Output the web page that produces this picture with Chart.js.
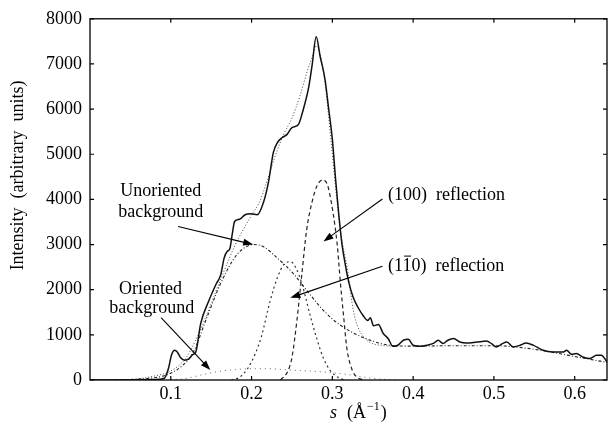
<!DOCTYPE html>
<html lang="en">
<head>
  <meta charset="UTF-8" />
  <title>Intensity vs s</title>
  <script src="https://cdn.jsdelivr.net/npm/chart.js"></script>
  <style>
    body { margin: 0; background: #fff; }
  </style>
</head>
<body>
  <canvas id="profile" width="612" height="429"></canvas>

  <script>
    // measured profile (solid)
    const dataS = [0, 0.04, 0.08, 0.092, 0.097, 0.101, 0.105, 0.108, 0.112, 0.117,
                   0.122, 0.127, 0.131, 0.137, 0.147, 0.156, 0.162, 0.166, 0.170, 0.173,
                   0.176, 0.179, 0.185, 0.192, 0.199, 0.207, 0.215, 0.221, 0.227, 0.232,
                   0.238, 0.244, 0.250, 0.258, 0.264, 0.271, 0.275, 0.280, 0.285, 0.291,
                   0.295, 0.300, 0.304, 0.308, 0.312, 0.316, 0.320, 0.326, 0.332, 0.338,
                   0.344, 0.347, 0.351, 0.357, 0.363, 0.369, 0.375, 0.381, 0.388, 0.394,
                   0.400, 0.409, 0.417, 0.425, 0.431, 0.437, 0.443, 0.450, 0.458, 0.466,
                   0.479, 0.491, 0.497, 0.503, 0.510, 0.516, 0.524, 0.532, 0.540, 0.549,
                   0.561, 0.573, 0.586, 0.590, 0.596, 0.602, 0.610, 0.619, 0.627, 0.633,
                   0.640];
    const dataI = [0, 0, 10, 40, 250, 560, 660, 620, 500, 440,
                   460, 560, 620, 1250, 1750, 2120, 2340, 2700, 2850, 2900,
                   3220, 3510, 3560, 3660, 3680, 3660, 3950, 4390, 5040, 5260,
                   5370, 5440, 5590, 5660, 5990, 6510, 6980, 7600, 7160, 6650,
                   6070, 5330, 4450, 3660, 3000, 2560, 2190, 1820, 1600, 1430,
                   1320, 1380, 1200, 1230, 1030, 920, 745, 770, 880, 900,
                   770, 745, 770, 810, 880, 810, 880, 920, 840, 818,
                   840, 862, 804, 731, 800, 840, 731, 767, 818, 767,
                   658, 621, 621, 658, 570, 585, 511, 475, 548, 548,
                   400];

    // fitted sum (fine dots)
    const fitS = [0.05, 0.08, 0.10, 0.12, 0.14, 0.16, 0.18, 0.20, 0.21, 0.22,
                  0.23, 0.24, 0.25, 0.26, 0.27, 0.275, 0.28, 0.285, 0.29, 0.295,
                  0.30, 0.305, 0.31, 0.319, 0.326, 0.332, 0.343, 0.359, 0.38];
    const fitI = [0, 90, 200, 520, 1250, 2150, 3000, 3650, 3950, 4450,
                  5000, 5450, 5800, 6300, 6900, 7150, 7400, 7200, 6700, 5900,
                  5000, 4100, 3300, 2410, 1535, 1160, 880, 770, 750];

    // unoriented background (dash-dot)
    const unorS = [0.03, 0.06, 0.086, 0.10, 0.115, 0.128, 0.145, 0.162, 0.182, 0.203,
                   0.215, 0.232, 0.252, 0.269, 0.285, 0.30, 0.322, 0.347, 0.371, 0.40,
                   0.45, 0.50, 0.55, 0.60, 0.64];
    const unorI = [0, 20, 70, 150, 330, 620, 1400, 2150, 2780, 3000,
                   2950, 2700, 2350, 1970, 1620, 1350, 1080, 880, 770, 750,
                   760, 760, 680, 520, 390];

    // (100) reflection (dashed)
    const r100S = [0.236, 0.245, 0.25, 0.256, 0.262, 0.268, 0.275, 0.281, 0.288, 0.294,
                   0.30, 0.306, 0.31, 0.314, 0.318, 0.324, 0.33, 0.34];
    const r100I = [0, 200, 500, 1300, 2300, 3300, 3950, 4300, 4430, 4320,
                   3800, 3000, 2150, 1400, 700, 250, 70, 0];

    // (1-10) reflection (dotted)
    const r110S = [0.175, 0.185, 0.195, 0.205, 0.212, 0.223, 0.232, 0.24, 0.248, 0.255,
                   0.262, 0.273, 0.281, 0.289, 0.297, 0.306, 0.315];
    const r110I = [0, 60, 250, 600, 950, 1750, 2270, 2560, 2620, 2480,
                   2150, 1400, 900, 480, 220, 70, 0];

    // oriented background (sparse dots)
    const oriS = [0.10, 0.12, 0.14, 0.16, 0.18, 0.20, 0.22, 0.24, 0.26, 0.28,
                  0.30, 0.32, 0.34, 0.36, 0.38];
    const oriI = [0, 40, 120, 190, 230, 250, 250, 230, 210, 190,
                  160, 120, 60, 20, 0];

    const sTicks = [0.1, 0.2, 0.3, 0.4, 0.5, 0.6];
    const iTicks = [0, 1000, 2000, 3000, 4000, 5000, 6000, 7000, 8000];

    const serif = "'Liberation Serif', 'Times New Roman', serif";

    function pts(xs, ys) {
      return xs.map((x, i) => ({ x: x, y: ys[i] }));
    }

    function series(xs, ys, width, dash, color) {
      return {
        data: pts(xs, ys),
        borderColor: color,
        borderWidth: width,
        borderDash: dash,
        pointRadius: 0,
        fill: false,
        cubicInterpolationMode: 'monotone'
      };
    }

    // arrows and captions, in data coordinates
    const arrows = [
      { from: [0.109, 3400], to: [0.202, 3000] },
      { from: [0.088, 1380], to: [0.149, 220] },
      { from: [0.362, 4010], to: [0.289, 3070] },
      { from: [0.362, 2520], to: [0.248, 1820] }
    ];
    const captions = [
      { text: 'Unoriented', at: [0.0877, 4079], align: 'center' },
      { text: 'background', at: [0.0877, 3618], align: 'center' },
      { text: 'Oriented', at: [0.075, 1908], align: 'center' },
      { text: 'background', at: [0.0765, 1491], align: 'center' },
      { text: '(100)  reflection', at: [0.369, 3991], align: 'left' },
      { text: '(110)  reflection', at: [0.369, 2412], align: 'left', bar: true }
    ];

    const decor = {
      id: 'decor',
      afterDatasetsDraw(chart) {
        const { ctx, chartArea: a, scales } = chart;
        const xs = scales.x, ys = scales.y;
        ctx.save();
        ctx.strokeStyle = '#000';
        ctx.lineWidth = 1.3;
        ctx.strokeRect(a.left, a.top, a.right - a.left, a.bottom - a.top);

        // inward ticks on all four sides
        ctx.lineWidth = 1.2;
        ctx.beginPath();
        sTicks.forEach(v => {
          const px = xs.getPixelForValue(v);
          ctx.moveTo(px, a.bottom); ctx.lineTo(px, a.bottom - 4);
          ctx.moveTo(px, a.top); ctx.lineTo(px, a.top + 4);
        });
        iTicks.forEach(v => {
          const py = ys.getPixelForValue(v);
          ctx.moveTo(a.left, py); ctx.lineTo(a.left + 4, py);
          ctx.moveTo(a.right, py); ctx.lineTo(a.right - 4, py);
        });
        ctx.stroke();

        // arrows
        ctx.fillStyle = '#000';
        ctx.lineWidth = 1.1;
        arrows.forEach(ar => {
          const x1 = xs.getPixelForValue(ar.from[0]), y1 = ys.getPixelForValue(ar.from[1]);
          const x2 = xs.getPixelForValue(ar.to[0]), y2 = ys.getPixelForValue(ar.to[1]);
          const ang = Math.atan2(y2 - y1, x2 - x1);
          ctx.beginPath();
          ctx.moveTo(x1, y1);
          ctx.lineTo(x2 - 6 * Math.cos(ang), y2 - 6 * Math.sin(ang));
          ctx.stroke();
          ctx.beginPath();
          ctx.moveTo(x2, y2);
          ctx.lineTo(x2 - 10 * Math.cos(ang) + 3.5 * Math.sin(ang), y2 - 10 * Math.sin(ang) - 3.5 * Math.cos(ang));
          ctx.lineTo(x2 - 10 * Math.cos(ang) - 3.5 * Math.sin(ang), y2 - 10 * Math.sin(ang) + 3.5 * Math.cos(ang));
          ctx.closePath();
          ctx.fill();
        });

        // captions
        ctx.font = '18px ' + serif;
        ctx.textBaseline = 'alphabetic';
        captions.forEach(c => {
          const px = xs.getPixelForValue(c.at[0]), py = ys.getPixelForValue(c.at[1]);
          ctx.textAlign = c.align;
          ctx.fillText(c.text, px, py);
          if (c.bar) {
            const x0 = px + ctx.measureText('(1').width;
            const w = ctx.measureText('1').width;
            ctx.beginPath();
            ctx.lineWidth = 1;
            ctx.moveTo(x0 + 1, py - 15);
            ctx.lineTo(x0 + w - 1, py - 15);
            ctx.stroke();
          }
        });

        // y axis title
        ctx.save();
        ctx.translate(23, (a.top + a.bottom) / 2 - 24);
        ctx.rotate(-Math.PI / 2);
        ctx.textAlign = 'center';
        ctx.fillText('Intensity  (arbitrary  units)', 0, 0);
        ctx.restore();

        // x axis title: s (Å^-1)
        ctx.textAlign = 'left';
        let tx = 330;
        const ty = 418;
        ctx.font = 'italic 18px ' + serif;
        ctx.fillText('s', tx, ty);
        tx += ctx.measureText('s').width + 10;
        ctx.font = '18px ' + serif;
        ctx.fillText('(Å', tx, ty);
        tx += ctx.measureText('(Å').width + 1;
        ctx.font = '12px ' + serif;
        ctx.fillText('\u22121', tx, ty - 8);
        tx += ctx.measureText('\u22121').width + 1;
        ctx.font = '18px ' + serif;
        ctx.fillText(')', tx, ty);
        ctx.restore();
      }
    };

    new Chart(document.getElementById('profile'), {
      type: 'line',
      data: {
        datasets: [
          series(dataS, dataI, 1.5, [], '#111'),
          series(fitS, fitI, 1, [1, 2], '#444'),
          series(unorS, unorI, 1.1, [3, 2, 1, 2], '#222'),
          series(r100S, r100I, 1.2, [4, 3], '#222'),
          series(r110S, r110I, 1.2, [2, 3], '#333'),
          series(oriS, oriI, 1, [1, 4], '#666')
        ]
      },
      options: {
        responsive: false,
        animation: false,
        devicePixelRatio: 1,
        layout: { padding: { top: 15, right: 5, left: 0, bottom: 0 } },
        plugins: { legend: { display: false }, tooltip: { enabled: false } },
        scales: {
          x: {
            type: 'linear',
            min: 0,
            max: 0.64,
            afterBuildTicks: s => { s.ticks = sTicks.map(v => ({ value: v })); },
            afterFit: s => { s.height = 49; },
            grid: { display: false, drawTicks: false },
            border: { display: false },
            ticks: {
              color: '#000',
              padding: 3,
              maxRotation: 0,
              font: { family: serif, size: 18 },
              callback: v => v.toFixed(1)
            }
          },
          y: {
            min: 0,
            max: 8000,
            afterBuildTicks: s => { s.ticks = iTicks.map(v => ({ value: v })); },
            afterFit: s => { s.width = 90; },
            grid: { display: false, drawTicks: false },
            border: { display: false },
            ticks: {
              color: '#000',
              padding: 8,
              font: { family: serif, size: 18 },
              callback: v => String(v)
            }
          }
        }
      },
      plugins: [decor]
    });
  </script>
</body>
</html>
